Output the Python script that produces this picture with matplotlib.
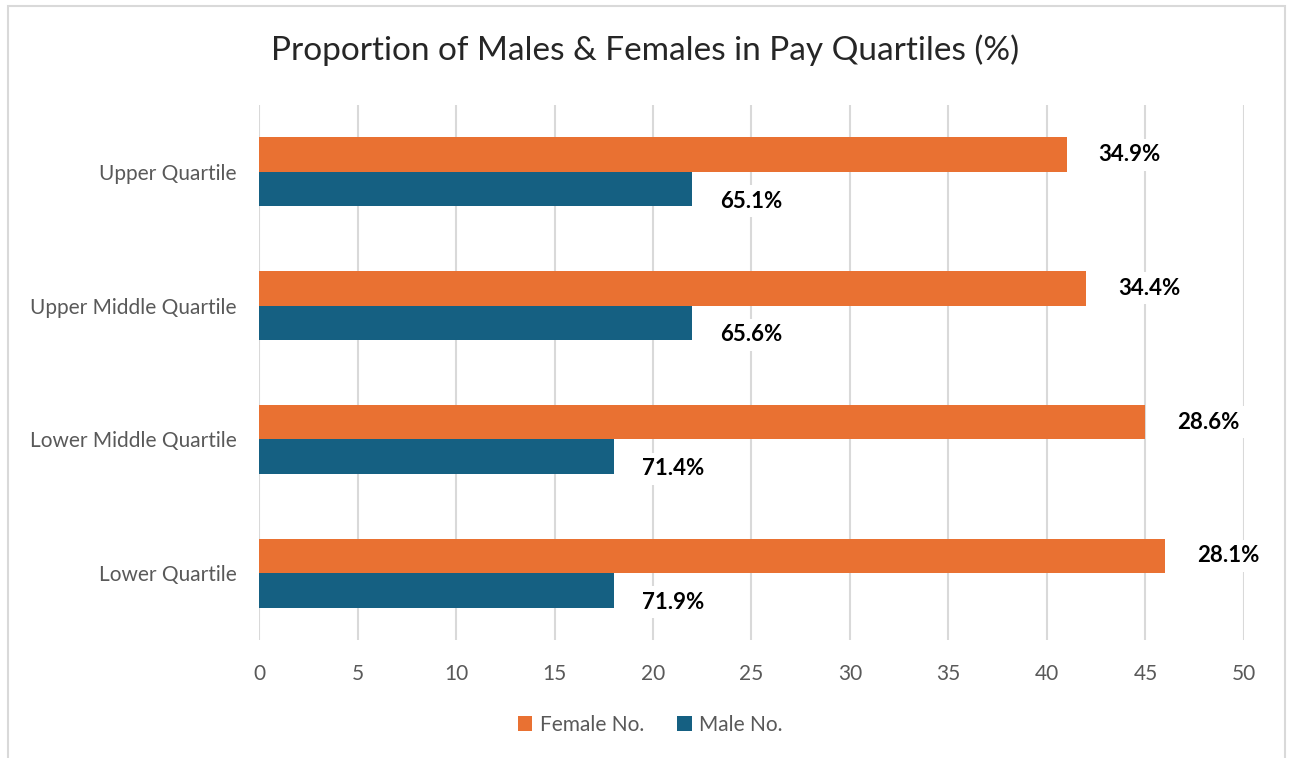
import matplotlib
matplotlib.use('Agg')
import numpy as np
import matplotlib.pyplot as plt
from matplotlib.patches import Rectangle

categories = ['Lower Quartile', 'Lower Middle Quartile', 'Upper Middle Quartile', 'Upper Quartile']
female_no = [46, 45, 42, 41]
male_no = [18, 18, 22, 22]
female_pct = ['28.1%', '28.6%', '34.4%', '34.9%']
male_pct = ['71.9%', '71.4%', '65.6%', '65.1%']

orange = '#E97132'
blue = '#156082'
grey_txt = '#595959'
grid_col = '#D9D9D9'

plt.rcParams['font.family'] = ['Lato', 'DejaVu Sans']

fig = plt.figure(figsize=(12.9, 7.58), dpi=100)
ax = fig.add_axes([0.2008, 0.1557, 0.7635, 0.7058])

y = np.arange(len(categories))
h = 0.258
ax.barh(y + h / 2, female_no, height=h, color=orange, label='Female No.', zorder=2)
ax.barh(y - h / 2, male_no, height=h, color=blue, label='Male No.', zorder=2)

box = dict(facecolor='white', edgecolor='none', pad=4)
for i in range(len(categories)):
    ax.text(female_no[i] + 3.2, y[i] + h / 2, female_pct[i], ha='center', va='center',
            fontsize=16, fontweight='bold', color='black', bbox=box, zorder=3)
    ax.text(male_no[i] + 3.0, y[i] - h / 2 - 0.09, male_pct[i], ha='center', va='center',
            fontsize=16, fontweight='bold', color='black', bbox=box, zorder=3)

ax.set_xlim(0, 50)
ax.set_ylim(-0.5, 3.5)
ax.set_xticks(np.arange(0, 51, 5))
ax.set_yticks(y)
ax.set_yticklabels(categories)
ax.tick_params(axis='both', length=0, colors=grey_txt, labelsize=15)
ax.tick_params(axis='x', pad=17)
ax.tick_params(axis='y', pad=16)
ax.grid(axis='x', color=grid_col, linewidth=1.5, zorder=0)
ax.set_axisbelow(True)
for s in ax.spines.values():
    s.set_visible(False)

fig.text(0.5, 0.934, 'Proportion of Males & Females in Pay Quartiles (%)', ha='center', va='center',
         fontsize=24, color='#262626')

leg = fig.legend(loc='center', bbox_to_anchor=(0.504, 0.044), ncol=2, frameon=False,
                 fontsize=15, handlelength=0.7, handleheight=0.7, handletextpad=0.35,
                 columnspacing=1.6)
for t in leg.get_texts():
    t.set_color(grey_txt)

fig.patches.append(Rectangle((8 / 1290, -0.02), 1277 / 1290, 1 - 6 / 758 + 0.02,
                             transform=fig.transFigure, fill=False, edgecolor=grid_col,
                             linewidth=1.5))

fig.savefig('out.png', dpi=100)
